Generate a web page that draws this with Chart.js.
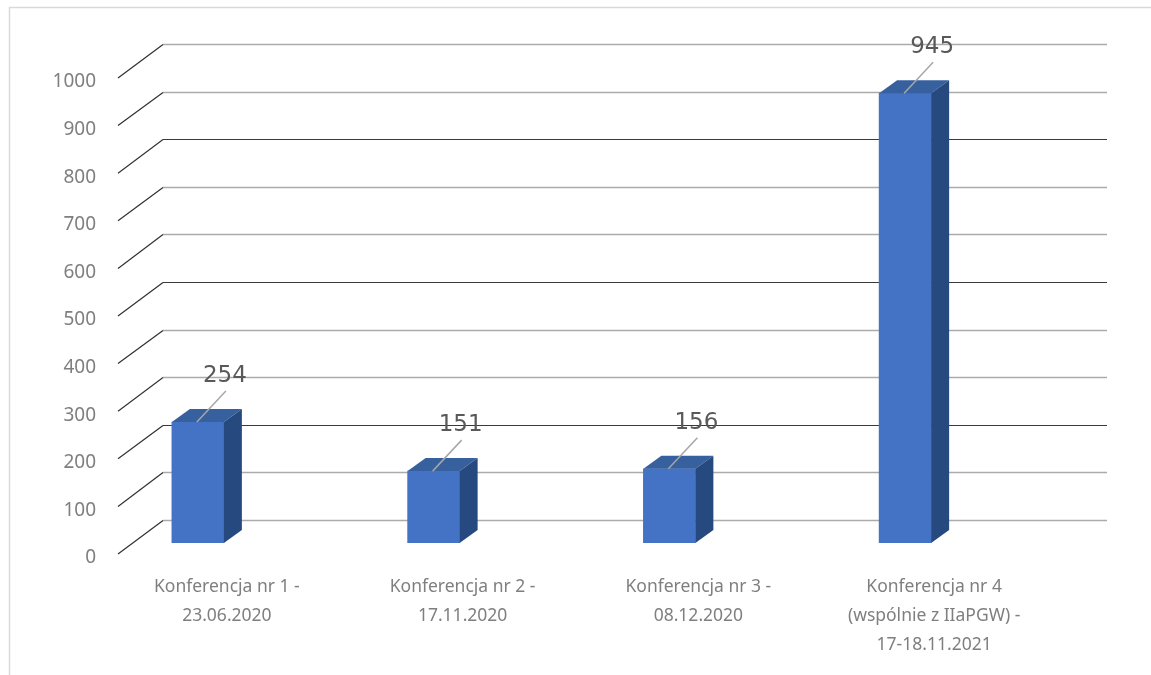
<!DOCTYPE html>
<html><head><meta charset="utf-8">
<script src="https://cdn.jsdelivr.net/npm/chart.js@4.4.1/dist/chart.umd.min.js"></script>
<style>html,body{margin:0;padding:0;background:#fff;overflow:hidden}</style>
</head><body>
<canvas id="c" width="1151" height="675" style="display:block;width:1151px;height:675px"></canvas>
<script>
// ---- data ----
const categories = [
  ["Konferencja nr 1 -", "23.06.2020"],
  ["Konferencja nr 2 -", "17.11.2020"],
  ["Konferencja nr 3 -", "08.12.2020"],
  ["Konferencja nr 4", "(wspólnie z IIaPGW) -", "17-18.11.2021"]
];
const participants = [254, 151, 156, 945];
const yMin = 0, yMax = 1000, yStep = 100;

// ---- styling constants ----
const FRONT = '#4472C4', TOP = '#37609F', SIDE = '#264A80';
const DX = 18, DY = -13;            // bar depth offset
const BACK_DY = -23, FRONT_DY = 11; // grid back / front plane relative to bar plane
const BACK_DX = 83, FRONT_DX = 38;  // relative to chartArea.left
const RIGHT_EXT = 84;
const Y_FONT = { family: '"Noto Sans"', size: 19 };
const Y_LABEL_RIGHT = 96;           // right edge of y tick labels (px)
const Y_AXIS_W = 70, PAD_LEFT = 10;

const mctx = document.createElement('canvas').getContext('2d');
mctx.font = Y_FONT.size + 'px ' + Y_FONT.family;
const widest = mctx.measureText(String(yMax)).width;

const threeD = {
  id: 'threeD',
  beforeDraw(chart) {
    const ctx = chart.ctx;
    ctx.save();
    ctx.strokeStyle = '#d9d9d9';
    ctx.lineWidth = 1.5;
    ctx.beginPath();
    ctx.moveTo(9.5, 680); ctx.lineTo(9.5, 7.5); ctx.lineTo(1160, 7.5);
    ctx.stroke();
    ctx.restore();
  },
  beforeDatasetsDraw(chart) {
    const ctx = chart.ctx, y = chart.scales.y, a = chart.chartArea;
    ctx.save();
    y.ticks.forEach(t => {
      const p = y.getPixelForValue(t.value);
      const by = Math.round(p + BACK_DY) + 0.5;
      const dark = (t.value === 800 || t.value === 500 || t.value === 200);
      ctx.strokeStyle = dark ? '#3a3a3a' : '#ababab';
      ctx.lineWidth = dark ? 1.2 : 1.7;
      ctx.beginPath();
      ctx.moveTo(a.left + BACK_DX, by);
      ctx.lineTo(a.right + RIGHT_EXT, by);
      ctx.stroke();
      ctx.strokeStyle = '#303030';
      ctx.lineWidth = 1.2;
      ctx.beginPath();
      ctx.moveTo(a.left + FRONT_DX, p + FRONT_DY);
      ctx.lineTo(a.left + BACK_DX, by);
      ctx.stroke();
    });
    ctx.restore();
  },
  afterDatasetsDraw(chart) {
    const ctx = chart.ctx;
    const meta = chart.getDatasetMeta(0);
    ctx.save();
    meta.data.forEach((bar, i) => {
      const l = bar.x - bar.width / 2, r = bar.x + bar.width / 2, t = bar.y, b = bar.base;
      ctx.fillStyle = TOP;
      ctx.beginPath();
      ctx.moveTo(l, t); ctx.lineTo(r, t); ctx.lineTo(r + DX, t + DY); ctx.lineTo(l + DX, t + DY);
      ctx.closePath(); ctx.fill();
      ctx.fillStyle = SIDE;
      ctx.beginPath();
      ctx.moveTo(r, t); ctx.lineTo(r + DX, t + DY); ctx.lineTo(r + DX, b + DY); ctx.lineTo(r, b);
      ctx.closePath(); ctx.fill();
      ctx.strokeStyle = '#a6a6a6';
      ctx.lineWidth = 1.5;
      ctx.beginPath();
      ctx.moveTo(bar.x - 1, t);
      ctx.lineTo(bar.x + 28, t - 31);
      ctx.stroke();
      ctx.fillStyle = '#595959';
      ctx.font = '23px "DejaVu Sans"';
      ctx.textAlign = 'center';
      ctx.textBaseline = 'middle';
      ctx.fillText(String(chart.data.datasets[0].data[i]), bar.x + 27, t - 46);
    });
    ctx.restore();
  }
};

new Chart(document.getElementById('c'), {
  type: 'bar',
  data: {
    labels: categories,
    datasets: [{
      data: participants,
      backgroundColor: FRONT,
      borderWidth: 0,
      barThickness: 52
    }]
  },
  options: {
    responsive: false,
    animation: false,
    devicePixelRatio: 1,
    layout: { padding: { left: PAD_LEFT, right: 128, top: 67, bottom: 0 } },
    plugins: { legend: { display: false }, tooltip: { enabled: false } },
    scales: {
      x: {
        grid: { display: false, drawTicks: false },
        border: { display: false },
        afterFit(s) { s.height = 132; },
        ticks: {
          color: '#7f7f7f',
          font: { family: '"Noto Sans"', size: 17.5, lineHeight: '29px' },
          padding: 30,
          labelOffset: 29,
          maxRotation: 0, minRotation: 0, autoSkip: false
        }
      },
      y: {
        min: yMin, max: yMax,
        grid: { display: false, drawTicks: false },
        border: { display: false },
        afterFit(s) { s.width = Y_AXIS_W; },
        ticks: {
          stepSize: yStep,
          color: '#7f7f7f',
          font: Y_FONT,
          mirror: true,
          crossAlign: 'far',
          padding: Y_LABEL_RIGHT - (PAD_LEFT + Y_AXIS_W) - widest,
          labelOffset: 15,
          callback: v => String(v)
        }
      }
    }
  },
  plugins: [threeD]
});
</script>
</body></html>
